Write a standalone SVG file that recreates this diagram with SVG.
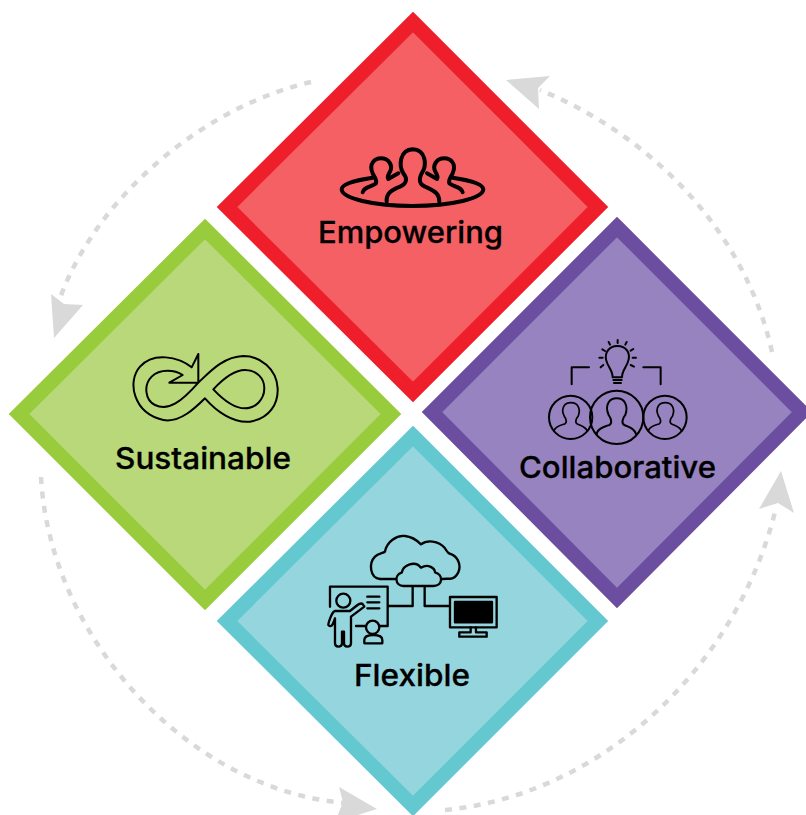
<svg xmlns="http://www.w3.org/2000/svg" xmlns:xlink="http://www.w3.org/1999/xlink" width="806" height="815" viewBox="0 0 806 815">
<style>
.lbl{font-family:Inter,"Liberation Sans",sans-serif;font-size:30px;font-weight:500;fill:#000;stroke:#000;stroke-width:.3;text-anchor:middle}
.ic{fill:none;stroke:#000;stroke-linejoin:round;stroke-linecap:round}
.arc{fill:none;stroke:#d9d9d9;stroke-width:4.5;stroke-dasharray:7 7.5}
.head{fill:#d9d9d9}
.d{stroke-width:14.500;stroke-linejoin:miter}
</style>
<defs>
<path id="bust" d="M262,312 C265,295 285,290 300,285 C310,280 305,265 298,255 C285,225 300,205 322,205 C345,205 358,225 348,255 C340,265 335,280 345,285 C360,292 375,295 380,312"/>
</defs>
<rect width="806" height="815" fill="#fff"/>
<g id="connectors">
<path class="arc" d="M311,82 C210,105 100,190 60,298"/>
<path class="arc" d="M41,477 C50,640 190,790 345,803"/>
<path class="arc" d="M445,810 C600,795 735,670 775,512"/>
<path class="arc" d="M772,352 C745,230 650,135 540,90"/>
<polygon class="head" points="506,80 550,76 538,88 539,109"/>
<polygon class="head" points="51,294 64,304 83,305 54,338"/>
<polygon class="head" points="339,787 377,809 335,822 343,802"/>
<polygon class="head" points="781,471 794,513 778,503 759,509"/>
</g>
<g id="empowering">
<polygon class="d" points="413,22 598,207 413,392 227,207" fill="#f56065" stroke="#ee1f2b"/>
<g class="ic" transform="translate(320,130) scale(.3333)" stroke-width="12">
<path d="M158,143 C95,152 65,165 65,178 C65,205 160,228 277,228 C395,228 490,205 490,178 C490,165 460,152 398,143"/>
<path d="M200,215 C198,190 215,180 240,170 C262,160 262,145 250,130 C235,105 240,60 278,58 C318,60 322,105 305,130 C295,150 298,165 320,172 C350,185 358,195 358,215"/>
<path d="M128,187 C130,172 150,172 168,160 C172,150 165,145 158,130 C145,100 165,85 183,85 C205,85 220,105 210,125 C205,135 200,140 205,147 L235,130"/>
<path d="M428,187 C426,172 406,172 388,160 C384,150 391,145 398,130 C411,100 391,85 373,85 C351,85 336,105 346,125 C351,135 356,140 351,147 L321,130"/>
</g>
<text class="lbl" x="410.500" y="243" textLength="185" lengthAdjust="spacingAndGlyphs">Empowering</text>
</g>
<g id="collaborative">
<polygon class="d" points="617,227 802,412 617,598 432,412" fill="#9683bf" stroke="#6b4ea0"/>
<g class="ic" transform="translate(510,330) scale(.3333)" stroke-width="6">
<circle cx="182" cy="262" r="65"/><circle cx="320" cy="262" r="80"/><circle cx="465" cy="262" r="65"/>
<use xlink:href="#bust" href="#bust" transform="translate(-2,0)"/>
<use xlink:href="#bust" href="#bust" transform="translate(-91,54) scale(.85,.8)"/>
<use xlink:href="#bust" href="#bust" transform="translate(192,54) scale(.85,.8)"/>
<path d="M185,163 V112 H237 M400,112 H452 V163"/>
<path d="M322,48 C295,48 285,70 288,88 C292,110 308,120 308,142 H336 C336,120 352,110 356,88 C360,70 350,48 322,48 Z"/>
<path d="M310,150 H335 M312,159 H333 M323,30 V39 M296,36 L300,44 M350,36 L346,44 M277,58 L285,63 M370,57 L362,62 M268,83 H278 M378,83 H368 M272,112 L280,105 M372,110 L362,105"/>
</g>
<text class="lbl" x="617.500" y="478" textLength="197" lengthAdjust="spacingAndGlyphs">Collaborative</text>
</g>
<g id="sustainable">
<polygon class="d" points="205,229 391,414 205,600 19,414" fill="#b8d87a" stroke="#99cc3c"/>
<g class="ic" transform="translate(110,340) scale(.3333)" stroke-width="6">
<path d="M245,82 L265,42 V128 H178 L218,105 C195,90 150,85 125,110 C100,135 105,180 135,195 C175,215 215,185 265,128 C300,95 340,50 400,48 C450,48 500,85 503,145 C505,190 480,235 420,245 C370,250 320,215 285,175 C260,200 210,250 160,240 C70,220 50,125 90,80 C130,35 205,50 245,82 Z"/>
<path d="M310,148 C350,105 380,90 405,90 C440,90 463,115 463,145 C463,180 435,205 405,205 C370,205 340,180 310,148 Z"/>
</g>
<text class="lbl" x="203" y="469" textLength="176" lengthAdjust="spacingAndGlyphs">Sustainable</text>
</g>
<g id="flexible">
<polygon class="d" points="413,436 598,621 413,806 227,621" fill="#95d6de" stroke="#63c8d0"/>
<g class="ic" transform="translate(320,525) scale(.3333)" stroke-width="7">
<path d="M225,162 H180 C150,160 145,115 165,95 C175,85 190,85 195,80 C200,50 230,30 255,33 C275,35 295,50 303,58 C320,45 355,45 375,70 C385,85 385,85 395,88 C420,100 425,130 410,150 C400,165 385,160 367,162"/>
<path d="M250,183 C225,183 222,150 245,143 C250,120 285,105 303,128 C325,115 345,130 345,142 C370,148 370,183 340,183 Z"/>
<path d="M278,185 V243 H205 M314,185 V243 H388"/>
<rect x="390" y="216" width="140" height="91"/>
<rect x="405" y="231" width="111" height="61" fill="#000"/>
<path d="M452,307 V322 H418 V335 H500 V322 H468 V307"/>
<path d="M30,245 V185 H203 V303 H178 M108,303 H135 M142,215 H178 M142,232 H178 M142,250 H178"/>
<circle cx="70" cy="227" r="21"/>
<path d="M130,240 C125,230 118,235 90,258 H45 C35,260 25,295 25,300 C28,305 35,305 38,298 L45,280 V355 C45,368 65,368 66,355 V320 H72 V355 C72,368 92,368 93,355 V275 L133,245 Z"/>
<circle cx="158" cy="307" r="20"/>
<path d="M133,355 V345 C133,335 145,330 160,330 C175,330 187,335 187,345 V355 Z"/>
</g>
<text class="lbl" x="412" y="686" textLength="116" lengthAdjust="spacingAndGlyphs">Flexible</text>
</g>
</svg>
